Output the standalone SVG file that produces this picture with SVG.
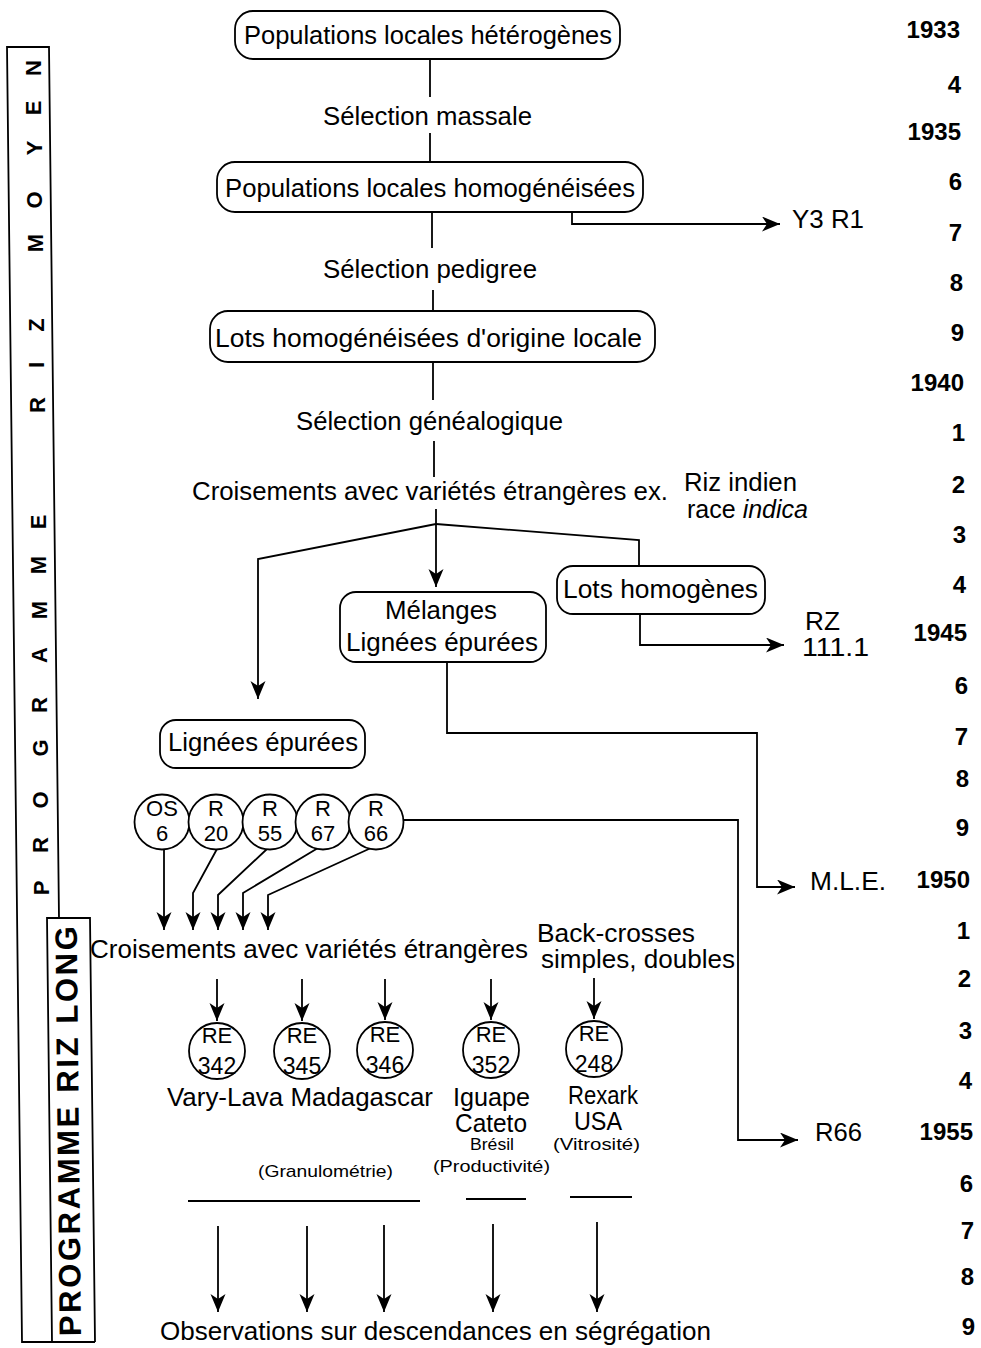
<svg xmlns="http://www.w3.org/2000/svg" width="981" height="1348" viewBox="0 0 981 1348">
  <style>
    .ln { fill: none; stroke: #000; stroke-width: 1.8; }
    .box { fill: #fff; stroke: #000; stroke-width: 1.8; }
    .t { font-family: "Liberation Sans", Arial, Helvetica, sans-serif; font-size: 25px; fill: #000; }
    .s { font-size: 17px; }
    .c { font-size: 22px; text-anchor: middle; }
    .n { font-size: 23px; }
    .yr { font-family: "Liberation Sans", Arial, Helvetica, sans-serif; font-size: 24px; font-weight: bold; text-anchor: end; fill: #000; }
    .band { font-family: "Liberation Sans", Arial, Helvetica, sans-serif; fill: #000; font-weight: bold; }
  </style>
  <defs>
    <marker id="ah" markerUnits="userSpaceOnUse" markerWidth="19" markerHeight="16" refX="18" refY="7.5" orient="auto">
      <path d="M0,0 L18,7.5 L0,15 L5,7.5 Z" fill="#000"/>
    </marker>
  </defs>
  <rect width="981" height="1348" fill="#fff"/>

  <!-- programme bands on the left -->
  <g id="band-riz-moyen">
    <path class="ln" d="M59,918 L49,47 L7,47 L22,1342 L95,1342"/>
    <text class="band" font-size="22" transform="rotate(-90)" text-anchor="middle"
      x="-888 -845 -800 -748 -705 -655 -610 -565 -522 -470 -405 -365 -325 -285 -243 -200 -148 -108 -68"
      y="49 48 48 48 47 47 47 46 46 45 45 44 44 43 43 42 42 41 41">PROGRAMME RIZ MOYEN</text>
  </g>
  <g id="band-riz-long">
    <path class="ln" d="M52,1342 L47,918 L90,918 L95,1342"/>
    <text class="band" font-size="31" transform="translate(81,1336) rotate(-90.6)" textLength="410" lengthAdjust="spacing">PROGRAMME RIZ LONG</text>
  </g>

  <!-- years -->
  <g id="years">
    <text class="yr" x="960" y="38">1933</text>
    <text class="yr" x="961" y="93">4</text>
    <text class="yr" x="961" y="140">1935</text>
    <text class="yr" x="962" y="190">6</text>
    <text class="yr" x="962" y="241">7</text>
    <text class="yr" x="963" y="291">8</text>
    <text class="yr" x="964" y="341">9</text>
    <text class="yr" x="964" y="391">1940</text>
    <text class="yr" x="965" y="441">1</text>
    <text class="yr" x="965" y="493">2</text>
    <text class="yr" x="966" y="543">3</text>
    <text class="yr" x="966" y="593">4</text>
    <text class="yr" x="967" y="641">1945</text>
    <text class="yr" x="968" y="694">6</text>
    <text class="yr" x="968" y="745">7</text>
    <text class="yr" x="969" y="787">8</text>
    <text class="yr" x="969" y="836">9</text>
    <text class="yr" x="970" y="888">1950</text>
    <text class="yr" x="970" y="939">1</text>
    <text class="yr" x="971" y="987">2</text>
    <text class="yr" x="972" y="1039">3</text>
    <text class="yr" x="972" y="1089">4</text>
    <text class="yr" x="973" y="1140">1955</text>
    <text class="yr" x="973" y="1192">6</text>
    <text class="yr" x="974" y="1239">7</text>
    <text class="yr" x="974" y="1285">8</text>
    <text class="yr" x="975" y="1335">9</text>
  </g>

  <!-- connectors -->
  <g id="connectors" class="ln">
    <path d="M430,58 V97"/>
    <path d="M430,133 V162"/>
    <path d="M432,212 V248"/>
    <path d="M572,212 V224 H780" marker-end="url(#ah)"/>
    <path d="M433,290 V311"/>
    <path d="M433,362 V400"/>
    <path d="M434,441 V477"/>
    <path d="M436,509 V587" marker-end="url(#ah)"/>
    <path d="M436,524 L258,559 V699" marker-end="url(#ah)"/>
    <path d="M436,524 L639,540 V566"/>
    <path d="M640,614 V645 H784" marker-end="url(#ah)"/>
    <path d="M447,662 V733 H757 V887 H795" marker-end="url(#ah)"/>
    <path d="M403,820 H738 V1140 H798" marker-end="url(#ah)"/>
    <path d="M164,849 V930" marker-end="url(#ah)"/>
    <path d="M217,849 L193,893 V930" marker-end="url(#ah)"/>
    <path d="M267,849 L218,895 V930" marker-end="url(#ah)"/>
    <path d="M318,848 L243,893 V930" marker-end="url(#ah)"/>
    <path d="M371,848 L268,895 V930" marker-end="url(#ah)"/>
    <path d="M217,979 V1021" marker-end="url(#ah)"/>
    <path d="M302,979 V1021" marker-end="url(#ah)"/>
    <path d="M385,979 V1020" marker-end="url(#ah)"/>
    <path d="M491,979 V1020" marker-end="url(#ah)"/>
    <path d="M594,978 V1019" marker-end="url(#ah)"/>
    <path d="M188,1201 H420"/>
    <path d="M466,1199 H526"/>
    <path d="M570,1197 H632"/>
    <path d="M218,1226 V1312" marker-end="url(#ah)"/>
    <path d="M307,1226 V1312" marker-end="url(#ah)"/>
    <path d="M384,1225 V1312" marker-end="url(#ah)"/>
    <path d="M493,1224 V1312" marker-end="url(#ah)"/>
    <path d="M597,1222 V1312" marker-end="url(#ah)"/>
  </g>

  <!-- nodes -->
  <g id="pop-heterogenes">
    <rect class="box" x="235" y="11" width="385" height="48" rx="18"/>
    <text class="t" x="244" y="44" textLength="368" lengthAdjust="spacingAndGlyphs">Populations locales hétérogènes</text>
  </g>
  <g id="selection-massale">
    <text class="t" x="323" y="125" textLength="209" lengthAdjust="spacingAndGlyphs">Sélection massale</text>
  </g>
  <g id="pop-homogeneisees">
    <rect class="box" x="217" y="162" width="426" height="50" rx="18"/>
    <text class="t" x="225" y="197" textLength="410" lengthAdjust="spacingAndGlyphs">Populations locales homogénéisées</text>
  </g>
  <g id="y3r1">
    <text class="t" x="792" y="228" textLength="72" lengthAdjust="spacingAndGlyphs">Y3 R1</text>
  </g>
  <g id="selection-pedigree">
    <text class="t" x="323" y="278" textLength="214" lengthAdjust="spacingAndGlyphs">Sélection pedigree</text>
  </g>
  <g id="lots-origine-locale">
    <rect class="box" x="210" y="311" width="445" height="51" rx="18"/>
    <text class="t" x="215" y="347" textLength="427" lengthAdjust="spacingAndGlyphs">Lots homogénéisées d'origine locale</text>
  </g>
  <g id="selection-genealogique">
    <text class="t" x="296" y="430" textLength="267" lengthAdjust="spacingAndGlyphs">Sélection généalogique</text>
  </g>
  <g id="croisements-indica">
    <text class="t" x="192" y="500" textLength="476" lengthAdjust="spacingAndGlyphs">Croisements avec variétés étrangères ex.</text>
    <text class="t" x="684" y="491" font-size="24" textLength="113" lengthAdjust="spacingAndGlyphs">Riz indien</text>
    <text class="t" x="687" y="518" font-size="24" textLength="121" lengthAdjust="spacingAndGlyphs">race <tspan font-style="italic">indica</tspan></text>
  </g>
  <g id="melanges">
    <rect class="box" x="340" y="592" width="206" height="70" rx="16"/>
    <text class="t" x="385" y="619" textLength="112" lengthAdjust="spacingAndGlyphs">Mélanges</text>
    <text class="t" x="346" y="651" textLength="192" lengthAdjust="spacingAndGlyphs">Lignées épurées</text>
  </g>
  <g id="lots-homogenes">
    <rect class="box" x="557" y="566" width="208" height="48" rx="16"/>
    <text class="t" x="563" y="598" textLength="195" lengthAdjust="spacingAndGlyphs">Lots homogènes</text>
  </g>
  <g id="rz-111">
    <text class="t" x="805" y="630" textLength="35" lengthAdjust="spacingAndGlyphs">RZ</text>
    <text class="t" x="802" y="656" textLength="67" lengthAdjust="spacingAndGlyphs">111.1</text>
  </g>
  <g id="lignees-epurees">
    <rect class="box" x="160" y="720" width="205" height="48" rx="16"/>
    <text class="t" x="168" y="751" textLength="190" lengthAdjust="spacingAndGlyphs">Lignées épurées</text>
  </g>
  <g id="os6">
    <circle class="box" cx="162" cy="822" r="27.5"/>
    <text class="t c" x="162" y="816">OS</text>
    <text class="t c" x="162" y="841">6</text>
  </g>
  <g id="r20">
    <circle class="box" cx="216" cy="822" r="27.5"/>
    <text class="t c" x="216" y="816">R</text>
    <text class="t c" x="216" y="841">20</text>
  </g>
  <g id="r55">
    <circle class="box" cx="270" cy="822" r="27.5"/>
    <text class="t c" x="270" y="816">R</text>
    <text class="t c" x="270" y="841">55</text>
  </g>
  <g id="r67">
    <circle class="box" cx="323" cy="822" r="27.5"/>
    <text class="t c" x="323" y="816">R</text>
    <text class="t c" x="323" y="841">67</text>
  </g>
  <g id="r66">
    <circle class="box" cx="376" cy="822" r="27.5"/>
    <text class="t c" x="376" y="816">R</text>
    <text class="t c" x="376" y="841">66</text>
  </g>
  <g id="mle">
    <text class="t" x="810" y="890" textLength="76" lengthAdjust="spacingAndGlyphs">M.L.E.</text>
  </g>
  <g id="croisements-long">
    <text class="t" x="90" y="958" textLength="438" lengthAdjust="spacingAndGlyphs">Croisements avec variétés étrangères</text>
  </g>
  <g id="back-crosses">
    <text class="t" x="537" y="942" font-size="24" textLength="158" lengthAdjust="spacingAndGlyphs">Back-crosses</text>
    <text class="t" x="541" y="968" font-size="24" textLength="194" lengthAdjust="spacingAndGlyphs">simples, doubles</text>
  </g>
  <g id="re342">
    <circle class="box" cx="217" cy="1051" r="28"/>
    <text class="t c" x="217" y="1043">RE</text>
    <text class="t c n" x="217" y="1074">342</text>
  </g>
  <g id="re345">
    <circle class="box" cx="302" cy="1051" r="28"/>
    <text class="t c" x="302" y="1043">RE</text>
    <text class="t c n" x="302" y="1074">345</text>
  </g>
  <g id="re346">
    <circle class="box" cx="385" cy="1050" r="28"/>
    <text class="t c" x="385" y="1042">RE</text>
    <text class="t c n" x="385" y="1073">346</text>
  </g>
  <g id="re352">
    <circle class="box" cx="491" cy="1050" r="28"/>
    <text class="t c" x="491" y="1042">RE</text>
    <text class="t c n" x="491" y="1073">352</text>
  </g>
  <g id="re248">
    <circle class="box" cx="594" cy="1049" r="28"/>
    <text class="t c" x="594" y="1041">RE</text>
    <text class="t c n" x="594" y="1072">248</text>
  </g>
  <g id="vary-lava-madagascar">
    <text class="t" x="167" y="1106" textLength="266" lengthAdjust="spacingAndGlyphs">Vary-Lava Madagascar</text>
    <text class="t s" x="258" y="1177" textLength="135" lengthAdjust="spacingAndGlyphs">(Granulométrie)</text>
  </g>
  <g id="iguape-cateto">
    <text class="t" x="453" y="1106" textLength="77" lengthAdjust="spacingAndGlyphs">Iguape</text>
    <text class="t" x="455" y="1132" textLength="72" lengthAdjust="spacingAndGlyphs">Cateto</text>
    <text class="t s" x="470" y="1150" textLength="44" lengthAdjust="spacingAndGlyphs">Brésil</text>
    <text class="t s" x="433" y="1172" textLength="117" lengthAdjust="spacingAndGlyphs">(Productivité)</text>
  </g>
  <g id="rexark-usa">
    <text class="t" x="568" y="1104" textLength="70" lengthAdjust="spacingAndGlyphs">Rexark</text>
    <text class="t" x="574" y="1130" textLength="48" lengthAdjust="spacingAndGlyphs">USA</text>
    <text class="t s" x="553" y="1150" textLength="87" lengthAdjust="spacingAndGlyphs">(Vitrosité)</text>
  </g>
  <g id="r66-final">
    <text class="t" x="815" y="1141" textLength="47" lengthAdjust="spacingAndGlyphs">R66</text>
  </g>
  <g id="observations">
    <text class="t" x="160" y="1340" textLength="551" lengthAdjust="spacingAndGlyphs">Observations sur descendances en ségrégation</text>
  </g>
</svg>
